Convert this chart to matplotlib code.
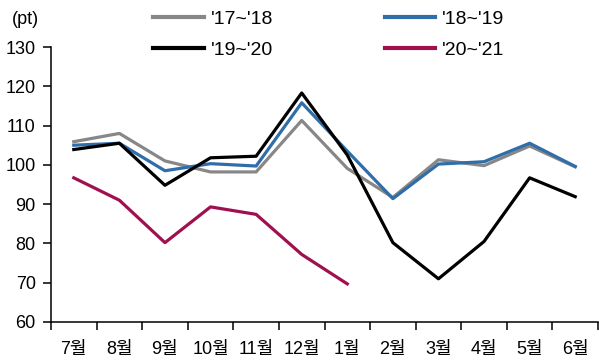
import numpy as np
import matplotlib.pyplot as plt
from matplotlib import font_manager

fams = [f.name for f in font_manager.fontManager.ttflist]
base = 'Liberation Sans Narrow' if 'Liberation Sans Narrow' in fams else 'Liberation Sans'
plt.rcParams['font.family'] = [base, 'Noto Sans CJK KR']

months = ['7월', '8월', '9월', '10월', '11월', '12월', '1월', '2월', '3월', '4월', '5월', '6월']
s1718 = [105.9, 108.0, 101.0, 98.2, 98.2, 111.3, 99.1, 91.7, 101.3, 99.8, 104.8, 99.5]
s1819 = [105.0, 105.5, 98.5, 100.3, 99.7, 115.8, 103.5, 91.4, 100.2, 100.8, 105.5, 99.6]
s1920 = [103.9, 105.5, 94.8, 101.8, 102.2, 118.3, 102.5, 80.2, 71.0, 80.5, 96.7, 91.9]
s2021 = [96.7, 91.0, 80.2, 89.3, 87.4, 77.2, 69.7]

fig = plt.figure(figsize=(5.99, 3.61), dpi=100)
ax = fig.add_axes([51/599, 1-322/361, 547/599, 275/361])

x = np.arange(len(months))
ax.plot(x, s1718, color='#878787', lw=2.3, label="'17~'18")
ax.plot(x, s1819, color='#2f6ea8', lw=2.3, label="'18~'19")
ax.plot(x, s1920, color='black', lw=2.3, label="'19~'20")
ax.plot(x[:len(s2021)], s2021, color='#a0104f', lw=2.3, label="'20~'21")

ax.set_xlim(-0.5, len(months) - 0.5)
ax.set_ylim(60, 130)
ax.set_yticks(np.arange(60, 131, 10))
ax.set_xticks(np.arange(-0.5, len(months), 1))
ax.set_xticklabels([])
ax.set_xticks(x, minor=True)
ax.set_xticklabels(months, minor=True)
ax.tick_params(axis='x', which='major', length=6, direction='out', width=1.1)
ax.tick_params(axis='x', which='minor', length=0, pad=14, labelsize=13)
ax.tick_params(axis='y', length=6, direction='out', width=1.1, labelsize=13, pad=5)
for s in ['top', 'right']:
    ax.spines[s].set_visible(False)
for s in ['left', 'bottom']:
    ax.spines[s].set_linewidth(1.1)

fig.text(0.02, 0.945, '(pt)', fontsize=13, va='center')

h, l = ax.get_legend_handles_labels()
order = [0, 2, 1, 3]
leg = fig.legend([h[i] for i in order], [l[i] for i in order], ncol=2, frameon=False,
                 loc='upper left', bbox_to_anchor=(0.2266, 1.02), fontsize=14,
                 handlelength=2.6, handletextpad=0.35, columnspacing=5.75,
                 labelspacing=0.7)
for ln in leg.get_lines():
    ln.set_linewidth(3.0)

fig.savefig('out.png', dpi=100)
